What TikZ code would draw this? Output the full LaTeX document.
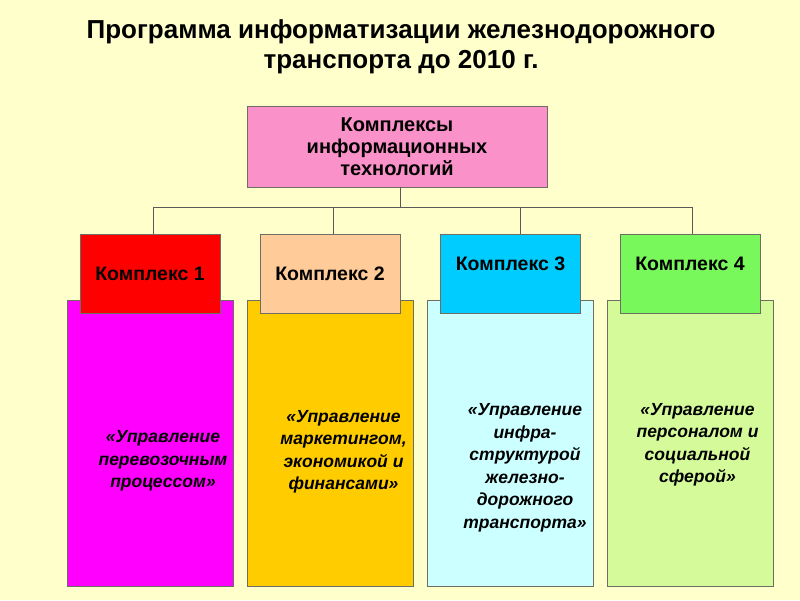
\documentclass[tikz,border=0pt]{standalone}
\usepackage{fontspec}
\setmainfont{Liberation Sans}
\usepackage{tikz}
\usetikzlibrary{positioning, calc}
\definecolor{bgyellow}{RGB}{255,255,204}
\definecolor{topPink}{RGB}{250,145,200}
\definecolor{kOrange}{RGB}{255,204,153}
\definecolor{kBlue}{RGB}{0,204,255}
\definecolor{kGreen}{RGB}{120,248,90}
\definecolor{pMagenta}{RGB}{255,0,255}
\definecolor{pYellow}{RGB}{255,204,0}
\definecolor{pCyan}{RGB}{204,255,255}
\definecolor{pLime}{RGB}{212,250,154}
\definecolor{edgeGrey}{RGB}{110,110,100}
\tikzstyle{headbox} = [rectangle, minimum width=300pt, minimum height=81pt, text centered, align=center, draw=edgeGrey, line width=0.8pt, fill=topPink, font=\fontsize{20}{22}\selectfont\bfseries]
\tikzstyle{complexbox} = [rectangle, minimum width=140pt, minimum height=79pt, text centered, draw=edgeGrey, line width=0.8pt, font=\fontsize{19.5}{22}\selectfont\bfseries]
\tikzstyle{areabox} = [rectangle, minimum width=166pt, minimum height=286pt, draw=edgeGrey, line width=0.8pt]
\tikzstyle{areatext} = [align=center, font=\fontsize{17.5}{22.5}\selectfont\bfseries\itshape]
\tikzstyle{link} = [draw=black!65, line width=0.9pt]

\begin{document}
\begin{tikzpicture}[x=1pt, y=1pt, node distance=169.5pt]
		
		\fill[bgyellow] (0,0) rectangle (800,600);
		\useasboundingbox (0,0) rectangle (800,600);
		
		\node (title) [align=center, font=\fontsize{26}{29.5}\selectfont\bfseries] at (401,553) {Программа информатизации железнодорожного \\ транспорта до 2010 г.};
		
		\node (top) [headbox] at (397,453.5) {Комплексы \\ информационных \\ технологий};
		
		\node (p1) [areabox, fill=pMagenta] at (150,157) {};
		\node (p2) [areabox, fill=pYellow] at (330,157) {};
		\node (p3) [areabox, fill=pCyan] at (510,157) {};
		\node (p4) [areabox, fill=pLime] at (690.5,157) {};
		
		\node (k1) [complexbox, fill=red, above of=p1] {Комплекс 1};
		\node (k2) [complexbox, fill=kOrange, above of=p2] {Комплекс 2};
		\node (k3) [complexbox, fill=kBlue, above of=p3, xshift=0.5pt][text depth=20pt] {Комплекс 3};
		\node (k4) [complexbox, fill=kGreen, above of=p4, xshift=-0.5pt][text depth=20pt] {Комплекс 4};
		
		\node (t1) [areatext] at ($(p1.center)+(13,-18)$) {«Управление \\ перевозочным \\ процессом»};
		\node (t2) [areatext] at ($(p2.center)+(13.5,-9)$) {«Управление \\ маркетингом, \\ экономикой и \\ финансами»};
		\node (t3) [areatext] at ($(p3.center)+(15,-25)$) {«Управление \\ инфра- \\ структурой \\ железно- \\ дорожного \\ транспорта»};
		\node (t4) [areatext] at ($(p4.center)+(7,-2)$) {«Управление \\ персоналом и \\ социальной \\ сферой»};
		
		\coordinate (hub) at ($(top.south)+(3,-20)$);
		\draw [link] ([xshift=3pt]top.south) -- (hub);
		\draw [link] (hub) -| ([xshift=3pt]k1.north);
		\draw [link] (hub) -| ([xshift=3pt]k2.north);
		\draw [link] (hub) -| ([xshift=10pt]k3.north);
		\draw [link] (hub) -| ([xshift=2pt]k4.north);
		\end{tikzpicture}
\end{document}
